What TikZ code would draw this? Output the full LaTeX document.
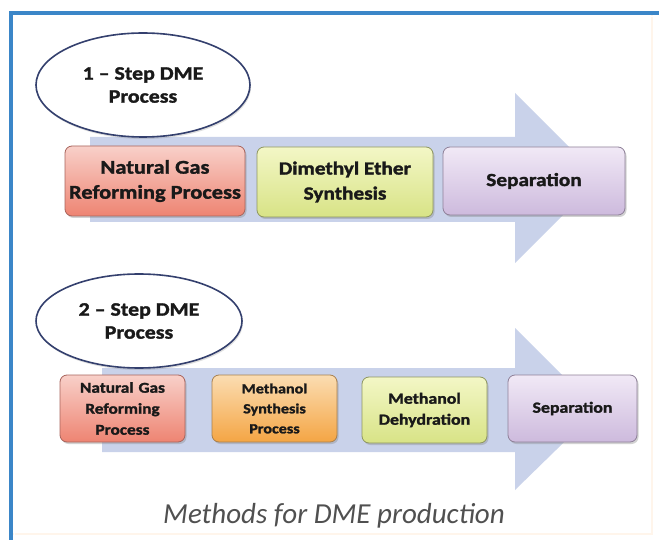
\documentclass[tikz,border=0pt]{standalone}
\usepackage{fontspec}
\setmainfont{Carlito}
\newfontfamily\boxfont[FakeStretch=1.15, BoldFeatures={FakeBold=1.6}]{Carlito}
\usetikzlibrary{shapes.geometric,shadows}

\definecolor{framebl}{HTML}{3B86C8}
\definecolor{arrowbl}{HTML}{C9D2EA}
\definecolor{ovalln}{HTML}{34406E}
\definecolor{capgray}{HTML}{505050}
\definecolor{redtop}{HTML}{F8D0C9}
\definecolor{redbot}{HTML}{EE8472}
\definecolor{redln}{HTML}{A8645C}
\definecolor{grntop}{HTML}{F3F7C6}
\definecolor{grnbot}{HTML}{D8E386}
\definecolor{grnln}{HTML}{8E9660}
\definecolor{purtop}{HTML}{F1E9F6}
\definecolor{purbot}{HTML}{CDBADD}
\definecolor{purln}{HTML}{8E8098}
\definecolor{orgtop}{HTML}{FBDDB2}
\definecolor{orgbot}{HTML}{F4A544}
\definecolor{orgln}{HTML}{A8804E}

\begin{document}
\begin{tikzpicture}[x=1pt,y=-1pt,
  stepbox/.style={draw=#1, rounded corners=7pt, line width=0.8pt,
    align=center, inner sep=2pt, text=black!90,
    drop shadow={opacity=0.35, shadow xshift=1.5pt, shadow yshift=-2pt}},
  bigbox/.style={stepbox=#1, minimum height=70pt,
    font=\boxfont\bfseries\fontsize{18.5}{25}\selectfont},
  smallbox/.style={stepbox=#1, minimum height=67pt, text width=118pt,
    font=\boxfont\bfseries\fontsize{15}{21}\selectfont},
  redbox/.style={top color=redtop, bottom color=redbot},
  greenbox/.style={top color=grntop, bottom color=grnbot},
  purplebox/.style={top color=purtop, bottom color=purbot},
  orangebox/.style={top color=orgtop, bottom color=orgbot},
  oval/.style={ellipse, draw=ovalln, line width=1.6pt, fill=white, align=center,
    text=black!90, font=\boxfont\bfseries\fontsize{19}{23}\selectfont,
    drop shadow={opacity=0.25, shadow xshift=1pt, shadow yshift=-2pt}},
  flow/.style={fill=arrowbl}
]
\useasboundingbox (0,0) rectangle (659,540);
\fill[white] (0,0) rectangle (659,540);

% frame
\draw[orange!8!white, line width=2pt] (652,13) -- (652,534) -- (11,534);
\draw[framebl, line width=4pt] (11,540) -- (11,13) -- (659,13);
\draw[white, line width=0.8pt] (14.5,540) -- (14.5,16.5) -- (659,16.5);

% process arrows
\fill[flow] (90,137) -- (515,137) -- (515,93) -- (600,178) -- (515,263) -- (515,222) -- (90,222) -- cycle;
\fill[flow] (102,368) -- (515,368) -- (515,328) -- (597,410) -- (515,490) -- (515,452) -- (102,452) -- cycle;

% one-step route
\node[oval, minimum width=214pt, minimum height=104pt] (o1) at (143,85) {1 – Step DME\\Process};
\node[bigbox=redln, redbox, minimum width=180pt, font=\boxfont\bfseries\fontsize{19.5}{25}\selectfont] (a1) at (155,181) {Natural Gas\\Reforming Process};
\node[bigbox=grnln, greenbox, minimum width=176pt] (b1) at (345,182) {Dimethyl Ether\\Synthesis};
\node[bigbox=purln, purplebox, minimum width=182pt, minimum height=68pt] (c1) at (534,181) {Separation};

% two-step route
\node[oval, minimum width=206pt, minimum height=94pt] (o2) at (139,321) {2 – Step DME\\Process};
\node[smallbox=redln, redbox, minimum width=125pt] (a2) at (122.5,408.5) {Natural Gas\\Reforming\\Process};
\node[smallbox=orgln, orangebox, minimum width=125pt, font=\boxfont\bfseries\fontsize{14}{20}\selectfont] (b2) at (274.5,408.5) {Methanol\\Synthesis\\Process};
\node[smallbox=grnln, greenbox, minimum width=125pt, minimum height=66pt, font=\boxfont\bfseries\fontsize{15.5}{21}\selectfont] (c2) at (424.5,410) {Methanol\\Dehydration};
\node[smallbox=purln, purplebox, minimum width=129pt, font=\boxfont\bfseries\fontsize{15.5}{21}\selectfont] (d2) at (572.5,408.5) {Separation};

% caption
\node[font=\itshape\fontsize{29}{32}\selectfont, text=capgray] (cap) at (334,516) {Methods for DME production};
\end{tikzpicture}
\end{document}
